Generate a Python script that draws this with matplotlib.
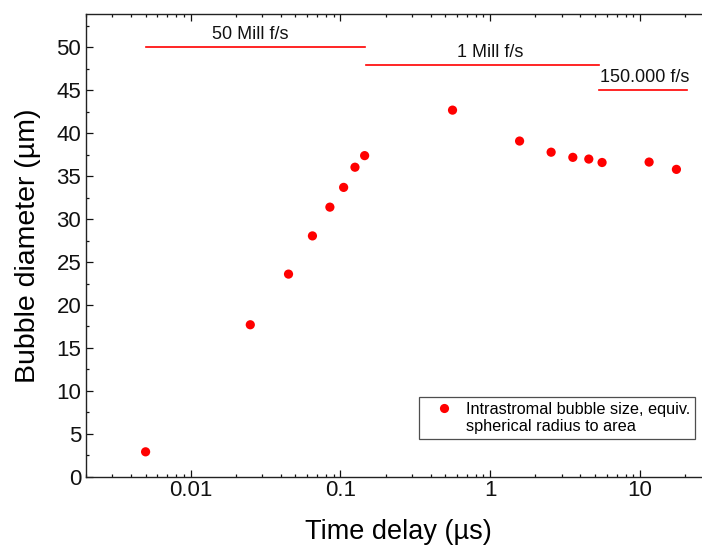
import matplotlib
matplotlib.use("Agg")
import matplotlib.pyplot as plt
from matplotlib.lines import Line2D
from matplotlib.ticker import LogLocator, MultipleLocator, FixedLocator, FixedFormatter

plt.rcParams['font.family'] = ['Liberation Sans', 'DejaVu Sans']

time_delay = [0.005, 0.025, 0.045, 0.065, 0.085, 0.105, 0.125, 0.145,
              0.56, 1.57, 2.55, 3.56, 4.55, 5.58, 11.5, 17.5]
diameter = [2.9, 17.7, 23.6, 28.05, 31.4, 33.7, 36.05, 37.4,
            42.7, 39.1, 37.8, 37.2, 37.0, 36.6, 36.65, 35.8]

frame_labels = ["50 Mill f/s", "1 Mill f/s", "150.000 f/s"]
frame_x0 = [0.005, 0.148, 5.3]
frame_x1 = [0.146, 5.3, 20.5]
frame_y = [50.1, 47.9, 45.1]
label_x = [0.025, 1.0, 10.7]
label_y = [51.55, 49.4, 46.55]

legend_lines = ["Intrastromal bubble size, equiv.", "spherical radius to area"]

xticks = [0.01, 0.1, 1, 10]
xticklabels = ["0.01", "0.1", "1", "10"]

fig = plt.figure(figsize=(7.02, 5.46), dpi=100)
ax = fig.add_axes([0.1225, 0.1269, 0.891, 0.8475])

ax.scatter(time_delay, diameter, s=44, color='#ff0000', edgecolors='none', zorder=3)

for lab, x0, x1, y, lx, ly in zip(frame_labels, frame_x0, frame_x1, frame_y, label_x, label_y):
    ax.plot([x0, x1], [y, y], color='#ff0000', lw=1.2)
    ax.text(lx, ly, lab, ha='center', va='center', fontsize=13, color='#111111')

ax.set_xscale('log')
ax.set_xlim(0.002, 30)
ax.set_ylim(0, 53.9)

ax.xaxis.set_major_locator(FixedLocator(xticks))
ax.xaxis.set_major_formatter(FixedFormatter(xticklabels))
ax.xaxis.set_minor_locator(LogLocator(base=10, subs=range(2, 10), numticks=20))
ax.yaxis.set_major_locator(MultipleLocator(5))
ax.yaxis.set_minor_locator(MultipleLocator(2.5))

ax.tick_params(which='both', direction='in', top=True, right=False, labelsize=16,
               colors='#111111', width=0.9)
ax.tick_params(which='major', length=5)
ax.tick_params(which='minor', length=2.5)
ax.tick_params(axis='x', which='major', pad=2.5)

for s in ax.spines.values():
    s.set_linewidth(1.0)
    s.set_color('#222222')

ax.set_xlabel("Time delay (µs)", fontsize=19.5, labelpad=13)
ax.set_ylabel("Bubble diameter (µm)", fontsize=20.5, labelpad=11)

h1 = Line2D([], [], linestyle='none', marker='o', markersize=6.6,
            markerfacecolor='#ff0000', markeredgecolor='none')
h2 = Line2D([], [], linestyle='none', marker='none')
leg = ax.legend([h1, h2], legend_lines, loc='lower left', fontsize=11.7,
                frameon=True, fancybox=False, edgecolor='#222222', handletextpad=0.1,
                borderpad=0.3, handlelength=2.45, labelspacing=0.15, borderaxespad=0)
leg.get_frame().set_linewidth(0.9)
leg.set_bbox_to_anchor((419.3 / 702, (546 - 439.3) / 546), transform=fig.transFigure)

fig.savefig("out.png", dpi=100)
